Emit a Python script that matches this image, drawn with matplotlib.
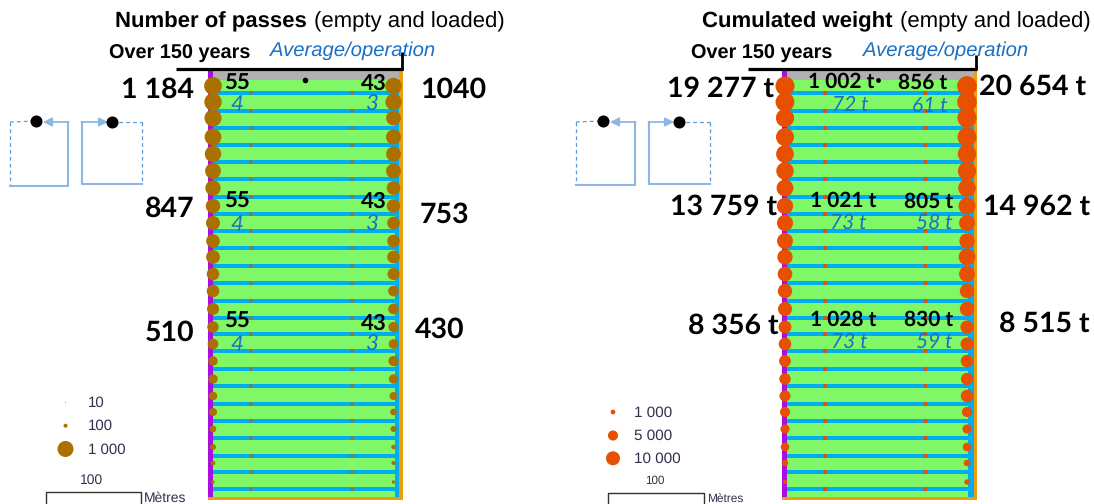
import matplotlib
matplotlib.use("Agg")
import matplotlib.pyplot as plt
from matplotlib.patches import Rectangle

# Passes per track, left and right rail, top to bottom
passes_left = [1184, 1150, 1110, 1080, 1040, 980, 930, 847, 800, 770, 780, 670,
               670, 620, 570, 510, 410, 410, 355, 315, 230, 195, 125, 75]
passes_right = [1040, 1030, 880, 900, 880, 880, 770, 753, 680, 670, 670, 620,
                510, 510, 470, 430, 470, 410, 315, 230, 195, 125, 105, 75]
passes_mid = [75] * 24

# Cumulated weight per track
weight_left = [19277, 18800, 17500, 17000, 16500, 16000, 14800, 13759, 13400, 13000, 12000, 11000,
               10500, 10000, 8356, 8000, 7000, 6500, 6000, 5000, 4000, 3500, 2000, 800]
weight_right = [20654, 20300, 19500, 19000, 18000, 17500, 16200, 14962, 13000, 12000, 14500, 13000,
                10500, 10500, 8800, 8515, 7800, 7400, 7800, 5000, 4000, 3500, 2000, 1300]
weight_mid = [800] * 24

# Rows of the yard, in pixels of the picture
stripe_y = [93, 111, 128, 145, 162, 179, 197, 214, 231, 248, 266, 283,
            301, 318, 334, 351, 369, 386, 404, 421, 438, 456, 472, 489]
bubble_y = [86, 102, 118, 137, 154, 171, 188, 206, 223, 241, 257, 274,
            291, 309, 327, 344, 361, 379, 396, 412, 429, 447, 463, 482]

legend_passes = [10, 100, 1000]
legend_passes_labels = ["10", "100", "1 000"]
legend_weight = [1000, 5000, 10000]
legend_weight_labels = ["1 000", "5 000", "10 000"]

GREEN = "#80f766"
BLUE = "#00aeef"
PURPLE = "#a80fe0"
ORANGE = "#eb9e0d"
GRAY = "#b0b0b0"
BROWN = "#aa7000"
RED = "#e65000"
TXTBLUE = "#1a70c2"
LEGTXT = "#30304a"
ARROW = "#8db7e2"
DASH = "#5b9bd5"

SANS = "Liberation Sans"
CAL = "Lato"

plt.rcParams["font.family"] = SANS
plt.rcParams["text.hinting"] = "no_hinting"

fig = plt.figure(figsize=(10.94, 5.04), dpi=100)
ax = fig.add_axes([0, 0, 1, 1])
ax.set_xlim(0, 1094)
ax.set_ylim(504, 0)
ax.axis("off")


def r_passes(v):
    return 8 * (v / 1000) ** 0.6


def r_weight(v):
    return 7 * (v / 10000) ** 0.47


def bubbles(xs, ys, radii, color, z=5):
    sizes = [(2 * r * 0.72) ** 2 for r in radii]
    ax.scatter(xs, ys, s=sizes, color=color, linewidths=0, zorder=z)


def rect(x0, y0, x1, y1, color, z=1):
    ax.add_patch(Rectangle((x0, y0), x1 - x0, y1 - y0, facecolor=color, edgecolor="none", zorder=z))


def yard(x0, x1, xblue, xorange, mid_a, mid_b, xbl, xbr, left, right, mid, rfun, color, dot):
    rect(x0, 70, xorange, 500, "white")
    rect(x0 + 4.5, 70, xblue, 497, GREEN)
    rect(x0 + 4.5, 70, xorange, 80, GRAY)
    rect(x0, 70, x0 + 4.5, 500, PURPLE, 2)
    rect(xblue, 80, xorange, 497, BLUE, 2)
    rect(xorange, 70, x1, 500, ORANGE, 3)
    rect(x0, 497, x1, 500, ORANGE, 3)
    for y in stripe_y:
        rect(x0 + 4.5, y - 2, xblue, y + 2, BLUE, 2)
    bubbles([mid_a] * 24, stripe_y, [rfun(v) for v in mid], color, 4)
    bubbles([mid_b] * 24, stripe_y, [rfun(v) for v in mid], color, 4)
    bubbles([xbl] * 24, bubble_y, [rfun(v) for v in left], color)
    bubbles([xbr] * 24, bubble_y, [rfun(v) for v in right], color)
    ax.scatter([dot[0]], [dot[1]], s=(2 * dot[2] * 0.72) ** 2, color="black", linewidths=0, zorder=6)


def loop(xa, xb, ytop, ybot, dot_x, tip_x, from_right):
    # little sketch of the driving direction
    if from_right:
        ax.plot([xa, dot_x], [ytop, ytop - 1], color=DASH, lw=0.9, ls=(0, (3, 2.5)), zorder=2)
        ax.plot([xa, xa], [ytop, ybot], color=DASH, lw=0.9, ls=(0, (3, 2.5)), zorder=2)
        ax.plot([xb, xb, xa], [ytop, ybot, ybot], color=ARROW, lw=1.5, zorder=2)
        ax.annotate("", xy=(tip_x, ytop), xytext=(xb + 0.5, ytop),
                    arrowprops=dict(arrowstyle="-|>", color=ARROW, lw=1.3, mutation_scale=13, shrinkA=0, shrinkB=0))
    else:
        ax.plot([dot_x, xb], [ytop, ytop], color=DASH, lw=0.9, ls=(0, (3, 2.5)), zorder=2)
        ax.plot([xb, xb], [ytop, ybot], color=DASH, lw=0.9, ls=(0, (3, 2.5)), zorder=2)
        ax.plot([xa, xa, xb], [ytop, ybot, ybot], color=ARROW, lw=1.5, zorder=2)
        ax.annotate("", xy=(tip_x, ytop), xytext=(xa - 0.5, ytop),
                    arrowprops=dict(arrowstyle="-|>", color=ARROW, lw=1.3, mutation_scale=13, shrinkA=0, shrinkB=0))
    ax.scatter([dot_x], [ytop - 1 if from_right else ytop], s=75, color="black", linewidths=0, zorder=5)


def big(x, y, s, ha="center", size=20.5):
    ax.text(x, y + 1.5, s, family=CAL, weight="bold", fontsize=size, ha=ha, va="center", color="black", zorder=8)


def mid_txt(x, y, s, size=15):
    ax.text(x, y, s, family=CAL, weight="bold", fontsize=size, ha="center", va="center", color="black", zorder=8)


def blue_txt(x, y, s, size=15):
    ax.text(x, y + 1.5, s, family=CAL, style="italic", fontsize=size, ha="center", va="center", color=TXTBLUE, zorder=8)


# --- left panel: passes
yard(208, 402.5, 394.5, 399, 251, 352, 213, 393.5,
     passes_left, passes_right, passes_mid, r_passes, BROWN, (305, 80, 2.8))

ax.text(115, 21.5, "Number of passes", weight="bold", fontsize=15.9, ha="left", va="center")
ax.text(313.5, 21.5, "(empty and loaded)", fontsize=15.9, ha="left", va="center")
ax.text(109, 53.5, "Over 150 years", weight="bold", fontsize=14.3, ha="left", va="center")
ax.text(270, 51, "Average/operation", style="italic", fontsize=14.6, ha="left", va="center", color=TXTBLUE)
ax.plot([176, 402.5], [68.8, 68.8], color="black", lw=2.3, solid_capstyle="butt", zorder=7)
ax.plot([402, 402], [52, 70], color="black", lw=2, solid_capstyle="butt", zorder=7)

big(194, 88, "1 184", ha="right")
big(420, 88, "1040", ha="left")
big(194, 207, "847", ha="right")
big(420, 213, "753", ha="left")
big(194, 331, "510", ha="right")
big(415, 328, "430", ha="left")

for y55, y43, yb4, yb3 in [(83, 84, 103, 103), (201, 202, 223, 223), (322, 323, 343, 343)]:
    mid_txt(237, y55, "55", 16)
    mid_txt(374, y43, "43", 16)
    blue_txt(237, yb4, "4", 16)
    blue_txt(372, yb3, "3", 16)

loop(10, 68, 122, 186, 36, 43, True)
loop(82, 142, 122, 184, 112, 108, False)

bubbles([65.5] * 3, [402.7, 425.7, 449], [r_passes(v) for v in legend_passes], BROWN)
for y, lab in zip([402.7, 425.7, 449], legend_passes_labels):
    ax.text(88, y + 0.5, lab, fontsize=10.8, ha="left", va="center", color=LEGTXT)
ax.text(92, 480, "100", fontsize=10, ha="center", va="center", color=LEGTXT)
ax.add_patch(Rectangle((45.5, 491.5), 95.5, 14, facecolor="white", edgecolor="#333333", lw=1))
ax.text(144, 498.5, "Mètres", fontsize=10, ha="left", va="center", color=LEGTXT)

# --- right panel: cumulated weight
yard(782, 977, 968, 974, 825, 925.5, 785, 967,
     weight_left, weight_right, weight_mid, r_weight, RED, (878, 80, 2.4))

ax.text(702, 21.5, "Cumulated weight", weight="bold", fontsize=15.9, ha="left", va="center")
ax.text(900, 21.5, "(empty and loaded)", fontsize=15.9, ha="left", va="center")
ax.text(691, 53.5, "Over 150 years", weight="bold", fontsize=14.3, ha="left", va="center")
ax.text(863, 51, "Average/operation", style="italic", fontsize=14.6, ha="left", va="center", color=TXTBLUE)
ax.plot([748, 977], [68.8, 68.8], color="black", lw=2.3, solid_capstyle="butt", zorder=7)
ax.plot([976, 976], [55, 70], color="black", lw=2, solid_capstyle="butt", zorder=7)

big(774, 87, "19 277 t", ha="right")
big(979, 85, "20 654 t", ha="left")
big(777, 205, "13 759 t", ha="right")
big(983, 205, "14 962 t", ha="left")
big(779, 324, "8 356 t", ha="right")
big(999, 322, "8 515 t", ha="left")

mid_txt(841, 82, "1 002 t")
mid_txt(923, 83, "856 t")
blue_txt(850, 103, "72 t")
blue_txt(930, 104, "61 t")
mid_txt(843, 201, "1 021 t")
mid_txt(929, 202, "805 t")
blue_txt(848, 221, "73 t")
blue_txt(934, 221, "58 t")
mid_txt(843, 320, "1 028 t")
mid_txt(929, 320, "830 t")
blue_txt(849, 340, "73 t")
blue_txt(934, 340, "59 t")

loop(576, 635, 122, 185, 603, 610, True)
loop(649, 710, 122, 184, 679, 674, False)

bubbles([613] * 3, [412, 435.5, 458.3], [r_weight(v) for v in legend_weight], RED)
for y, lab in zip([412, 435.5, 458.3], legend_weight_labels):
    ax.text(634, y + 0.5, lab, fontsize=11, ha="left", va="center", color=LEGTXT)
ax.text(654.5, 481, "100", fontsize=8.4, ha="center", va="center", color=LEGTXT)
ax.add_patch(Rectangle((607.5, 492.5), 96.5, 13, facecolor="white", edgecolor="#333333", lw=1))
ax.text(707, 498.5, "Mètres", fontsize=8.6, ha="left", va="center", color=LEGTXT)

fig.savefig("out.png", dpi=100)
